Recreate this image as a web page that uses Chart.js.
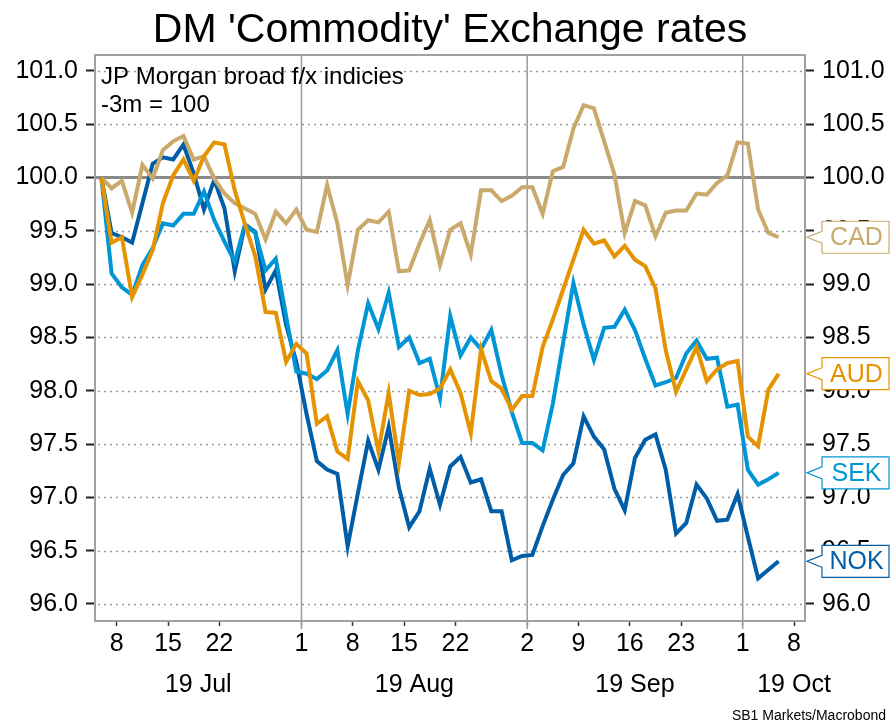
<!DOCTYPE html>
<html>
<head>
<meta charset="utf-8">
<script src="https://cdn.jsdelivr.net/npm/chart.js@4/dist/chart.umd.min.js"></script>
<style>
  html, body { margin: 0; padding: 0; background: #fff; }
  canvas { display: block; }
</style>
</head>
<body>
<canvas id="c" width="891" height="724"></canvas>
<script>
// Business days on the x axis (Jul 4 - Oct 8, 2019); series end on Oct 4
const days = [
  '2019-07-04','2019-07-05',
  '2019-07-08','2019-07-09','2019-07-10','2019-07-11','2019-07-12',
  '2019-07-15','2019-07-16','2019-07-17','2019-07-18','2019-07-19',
  '2019-07-22','2019-07-23','2019-07-24','2019-07-25','2019-07-26',
  '2019-07-29','2019-07-30','2019-07-31','2019-08-01','2019-08-02',
  '2019-08-05','2019-08-06','2019-08-07','2019-08-08','2019-08-09',
  '2019-08-12','2019-08-13','2019-08-14','2019-08-15','2019-08-16',
  '2019-08-19','2019-08-20','2019-08-21','2019-08-22','2019-08-23',
  '2019-08-26','2019-08-27','2019-08-28','2019-08-29','2019-08-30',
  '2019-09-02','2019-09-03','2019-09-04','2019-09-05','2019-09-06',
  '2019-09-09','2019-09-10','2019-09-11','2019-09-12','2019-09-13',
  '2019-09-16','2019-09-17','2019-09-18','2019-09-19','2019-09-20',
  '2019-09-23','2019-09-24','2019-09-25','2019-09-26','2019-09-27',
  '2019-09-30','2019-10-01','2019-10-02','2019-10-03','2019-10-04',
  '2019-10-07','2019-10-08'
];

// JP Morgan broad f/x indices, rebased: -3m = 100
const cad = [
  100.00, 99.90, 99.97, 99.67,100.12, 99.99,100.26,100.34,100.39,100.17,
  100.20, 99.99, 99.85, 99.76, 99.71, 99.66, 99.42, 99.68, 99.57, 99.70,
   99.51, 99.49, 99.93, 99.57, 98.99, 99.51, 99.60, 99.58, 99.68, 99.12,
   99.13, 99.38, 99.60, 99.18, 99.51, 99.57, 99.28, 99.88, 99.88, 99.78,
   99.83, 99.91, 99.91, 99.66,100.06,100.10,100.46,100.68,100.65,100.34,
  100.03, 99.48, 99.78, 99.74, 99.45, 99.67, 99.69, 99.69, 99.85, 99.84,
   99.95,100.02,100.33,100.32, 99.70, 99.48, 99.44
];
const aud = [
  100.00, 99.39, 99.44, 98.88, 99.09, 99.32, 99.76,100.02,100.17, 99.97,
  100.20,100.33,100.31, 99.88, 99.56, 99.26, 98.74, 98.73, 98.27, 98.44,
   98.35, 97.69, 97.76, 97.43, 97.36, 98.09, 97.91, 97.43, 97.98, 97.32,
   98.00, 97.96, 97.97, 98.02, 98.20, 97.98, 97.60, 98.39, 98.09, 98.02,
   97.82, 97.95, 97.95, 98.41, 98.67, 98.95, 99.23, 99.51, 99.38, 99.41,
   99.26, 99.36, 99.23, 99.17, 98.96, 98.38, 97.99, 98.20, 98.41, 98.09,
   98.20, 98.26, 98.28, 97.57, 97.48, 98.01, 98.16
];
const sek = [
  100.00, 99.10, 98.97, 98.90, 99.18, 99.34, 99.57, 99.55, 99.66, 99.66,
   99.87, 99.60, 99.40, 99.21, 99.56, 99.48, 99.13, 99.24, 98.70, 98.18,
   98.16, 98.11, 98.19, 98.38, 97.78, 98.38, 98.82, 98.58, 98.92, 98.41,
   98.50, 98.26, 98.30, 97.93, 98.70, 98.33, 98.50, 98.39, 98.57, 98.15,
   97.80, 97.51, 97.51, 97.44, 97.88, 98.45, 99.01, 98.62, 98.29, 98.59,
   98.60, 98.76, 98.57, 98.30, 98.05, 98.08, 98.12, 98.35, 98.47, 98.30,
   98.31, 97.85, 97.87, 97.26, 97.12, 97.17, 97.23
];
const nok = [
  100.00, 99.48, 99.44, 99.39, 99.76,100.13,100.19,100.17,100.31,100.04,
   99.70, 99.98, 99.71, 99.12, 99.56, 99.49, 98.95, 99.13, 98.62, 98.27,
   97.78, 97.34, 97.26, 97.22, 96.54, 97.04, 97.53, 97.26, 97.66, 97.09,
   96.72, 96.87, 97.27, 96.93, 97.29, 97.38, 97.14, 97.17, 96.87, 96.87,
   96.41, 96.45, 96.46, 96.73, 96.98, 97.21, 97.32, 97.76, 97.57, 97.45,
   97.08, 96.88, 97.37, 97.54, 97.59, 97.26, 96.66, 96.76, 97.12, 96.99,
   96.78, 96.79, 97.03, 96.63, 96.24, 96.32, 96.40
];

// Axis ticks
const xTickDates = ['2019-07-08','2019-07-15','2019-07-22','2019-08-01','2019-08-08',
  '2019-08-15','2019-08-22','2019-09-02','2019-09-09','2019-09-16','2019-09-23',
  '2019-10-01','2019-10-08'];
const monthStarts = ['2019-08-01','2019-09-02','2019-10-01'];
const monthLabels = ['19 Jul','19 Aug','19 Sep','19 Oct'];
const yTicks = [96.0, 96.5, 97.0, 97.5, 98.0, 98.5, 99.0, 99.5, 100.0, 100.5, 101.0];
const baseLevel = 100.0;

const FONT = "'Liberation Sans', Arial, Helvetica, sans-serif";
const colors = { CAD: '#C9A96C', AUD: '#E59300', SEK: '#0096D6', NOK: '#005EA8' };

// each value sits in the middle of its business-day slot
const toPoints = arr => arr.map((v, i) => ({ x: i + 0.5, y: v }));
const dayIndex = d => days.indexOf(d);

const series = [
  { label: 'AUD', data: aud },
  { label: 'CAD', data: cad },
  { label: 'SEK', data: sek },
  { label: 'NOK', data: nok }
];

const yAxisCommon = {
  type: 'linear',
  min: 95.84,
  max: 101.15,
  afterBuildTicks: s => { s.ticks = yTicks.map(v => ({ value: v })); },
  grid: { drawOnChartArea: false, drawTicks: true, tickLength: 9, tickWidth: 2, tickColor: '#222' },
  border: { display: false },
  ticks: {
    font: { family: FONT, size: 25 },
    color: '#000',
    padding: 8,
    callback: v => v.toFixed(1)
  }
};

const framePlugin = {
  id: 'frame',
  beforeDatasetsDraw(chart) {
    const { ctx, chartArea: a, scales } = chart;
    const y = scales.y, x = scales.x;
    ctx.save();
    // dotted horizontal grid
    ctx.strokeStyle = '#9a9a9a';
    ctx.lineWidth = 1.6;
    ctx.setLineDash([2, 4]);
    yTicks.forEach(v => {
      if (v === baseLevel) return;
      const py = Math.round(y.getPixelForValue(v)) + 0.5;
      ctx.beginPath(); ctx.moveTo(a.left + 3, py); ctx.lineTo(a.right, py); ctx.stroke();
    });
    ctx.setLineDash([]);
    // month separators
    ctx.strokeStyle = '#9a9a9a';
    ctx.lineWidth = 1.5;
    monthStarts.forEach(d => {
      const px = x.getPixelForValue(dayIndex(d));
      ctx.beginPath(); ctx.moveTo(px, a.top); ctx.lineTo(px, a.bottom + 8); ctx.stroke();
    });
    // base level line
    const pb = y.getPixelForValue(baseLevel);
    ctx.strokeStyle = '#8a8a8a';
    ctx.lineWidth = 3;
    ctx.beginPath(); ctx.moveTo(a.left, pb); ctx.lineTo(a.right, pb); ctx.stroke();
    // plot frame
    ctx.strokeStyle = '#a0a0a0';
    ctx.lineWidth = 2;
    ctx.strokeRect(a.left, a.top, a.right - a.left, a.bottom - a.top);
    ctx.restore();
  },
  afterDraw(chart) {
    const { ctx, chartArea: a, scales } = chart;
    const y = scales.y, x = scales.x;
    ctx.save();
    // title
    ctx.fillStyle = '#000';
    ctx.textAlign = 'center';
    ctx.textBaseline = 'alphabetic';
    ctx.font = `41px ${FONT}`;
    ctx.fillText("DM 'Commodity' Exchange rates", (a.left + a.right) / 2, 42);
    // note in the corner
    ctx.textAlign = 'left';
    ctx.textBaseline = 'middle';
    ctx.font = `24px ${FONT}`;
    ctx.fillText('JP Morgan broad f/x indicies', a.left + 6, 77);
    ctx.fillText('-3m = 100', a.left + 6, 105);
    // month labels
    ctx.textAlign = 'center';
    ctx.font = `25px ${FONT}`;
    const bounds = [x.min, ...monthStarts.map(dayIndex), x.max];
    monthLabels.forEach((m, k) => {
      let px;
      if (k < monthLabels.length - 1) {
        px = (x.getPixelForValue(bounds[k]) + x.getPixelForValue(bounds[k + 1])) / 2;
      } else {
        px = x.getPixelForValue(dayIndex(xTickDates[xTickDates.length - 1]));
      }
      ctx.fillText(m, px, 685);
    });
    // source
    ctx.textAlign = 'right';
    ctx.font = `14px ${FONT}`;
    ctx.fillText('SB1 Markets/Macrobond', 886, 716);
    // end-value callouts
    const boxL = a.right + 17, boxW = 67, boxH = 32;
    series.forEach(s => {
      const last = s.data[s.data.length - 1];
      const py = y.getPixelForValue(last);
      const col = colors[s.label];
      const top = py - boxH / 2;
      ctx.beginPath();
      ctx.moveTo(boxL, top);
      ctx.lineTo(boxL + boxW, top);
      ctx.lineTo(boxL + boxW, top + boxH);
      ctx.lineTo(boxL, top + boxH);
      ctx.lineTo(boxL, py + 6);
      ctx.lineTo(a.right + 2, py);
      ctx.lineTo(boxL, py - 6);
      ctx.closePath();
      ctx.fillStyle = '#fff';
      ctx.fill();
      ctx.strokeStyle = col;
      ctx.lineWidth = 1.2;
      ctx.stroke();
      ctx.fillStyle = col;
      ctx.textAlign = 'center';
      ctx.textBaseline = 'middle';
      ctx.font = `25px ${FONT}`;
      ctx.fillText(s.label, boxL + boxW / 2 + 1, py + 1);
    });
    ctx.restore();
  }
};

new Chart(document.getElementById('c'), {
  type: 'line',
  data: {
    datasets: series.map(s => ({
      label: s.label,
      data: toPoints(s.data),
      borderColor: colors[s.label],
      borderWidth: 4,
      pointRadius: 0,
      tension: 0,
      fill: false,
      yAxisID: 'y',
      borderJoinStyle: 'miter',
      borderCapStyle: 'butt'
    }))
  },
  options: {
    responsive: false,
    animation: false,
    events: [],
    layout: { padding: { top: 55, left: 0, right: 0, bottom: 0 } },
    plugins: {
      legend: { display: false },
      tooltip: { enabled: false },
      title: { display: false }
    },
    scales: {
      x: {
        type: 'linear',
        min: -0.12,
        max: 69.07,
        afterBuildTicks: s => { s.ticks = xTickDates.map(d => ({ value: dayIndex(d) })); },
        afterFit: s => { s.height = 103; },
        grid: {
          drawOnChartArea: false,
          drawTicks: true,
          tickLength: 5,
          tickWidth: 1.5,
          tickColor: c => (c.tick && monthStarts.map(dayIndex).includes(c.tick.value)) ? '#9a9a9a' : '#333'
        },
        border: { display: false },
        ticks: {
          font: { family: FONT, size: 25 },
          color: '#000',
          padding: 3,
          maxRotation: 0,
          autoSkip: false,
          callback: v => {
            const d = days[v];
            return d ? String(parseInt(d.slice(8), 10)) : '';
          }
        }
      },
      y: Object.assign({}, yAxisCommon, {
        position: 'left',
        afterFit: s => { s.width = 95; }
      }),
      y2: Object.assign({}, yAxisCommon, {
        position: 'right',
        afterFit: s => { s.width = 86; }
      })
    }
  },
  plugins: [framePlugin]
});
</script>
</body>
</html>
